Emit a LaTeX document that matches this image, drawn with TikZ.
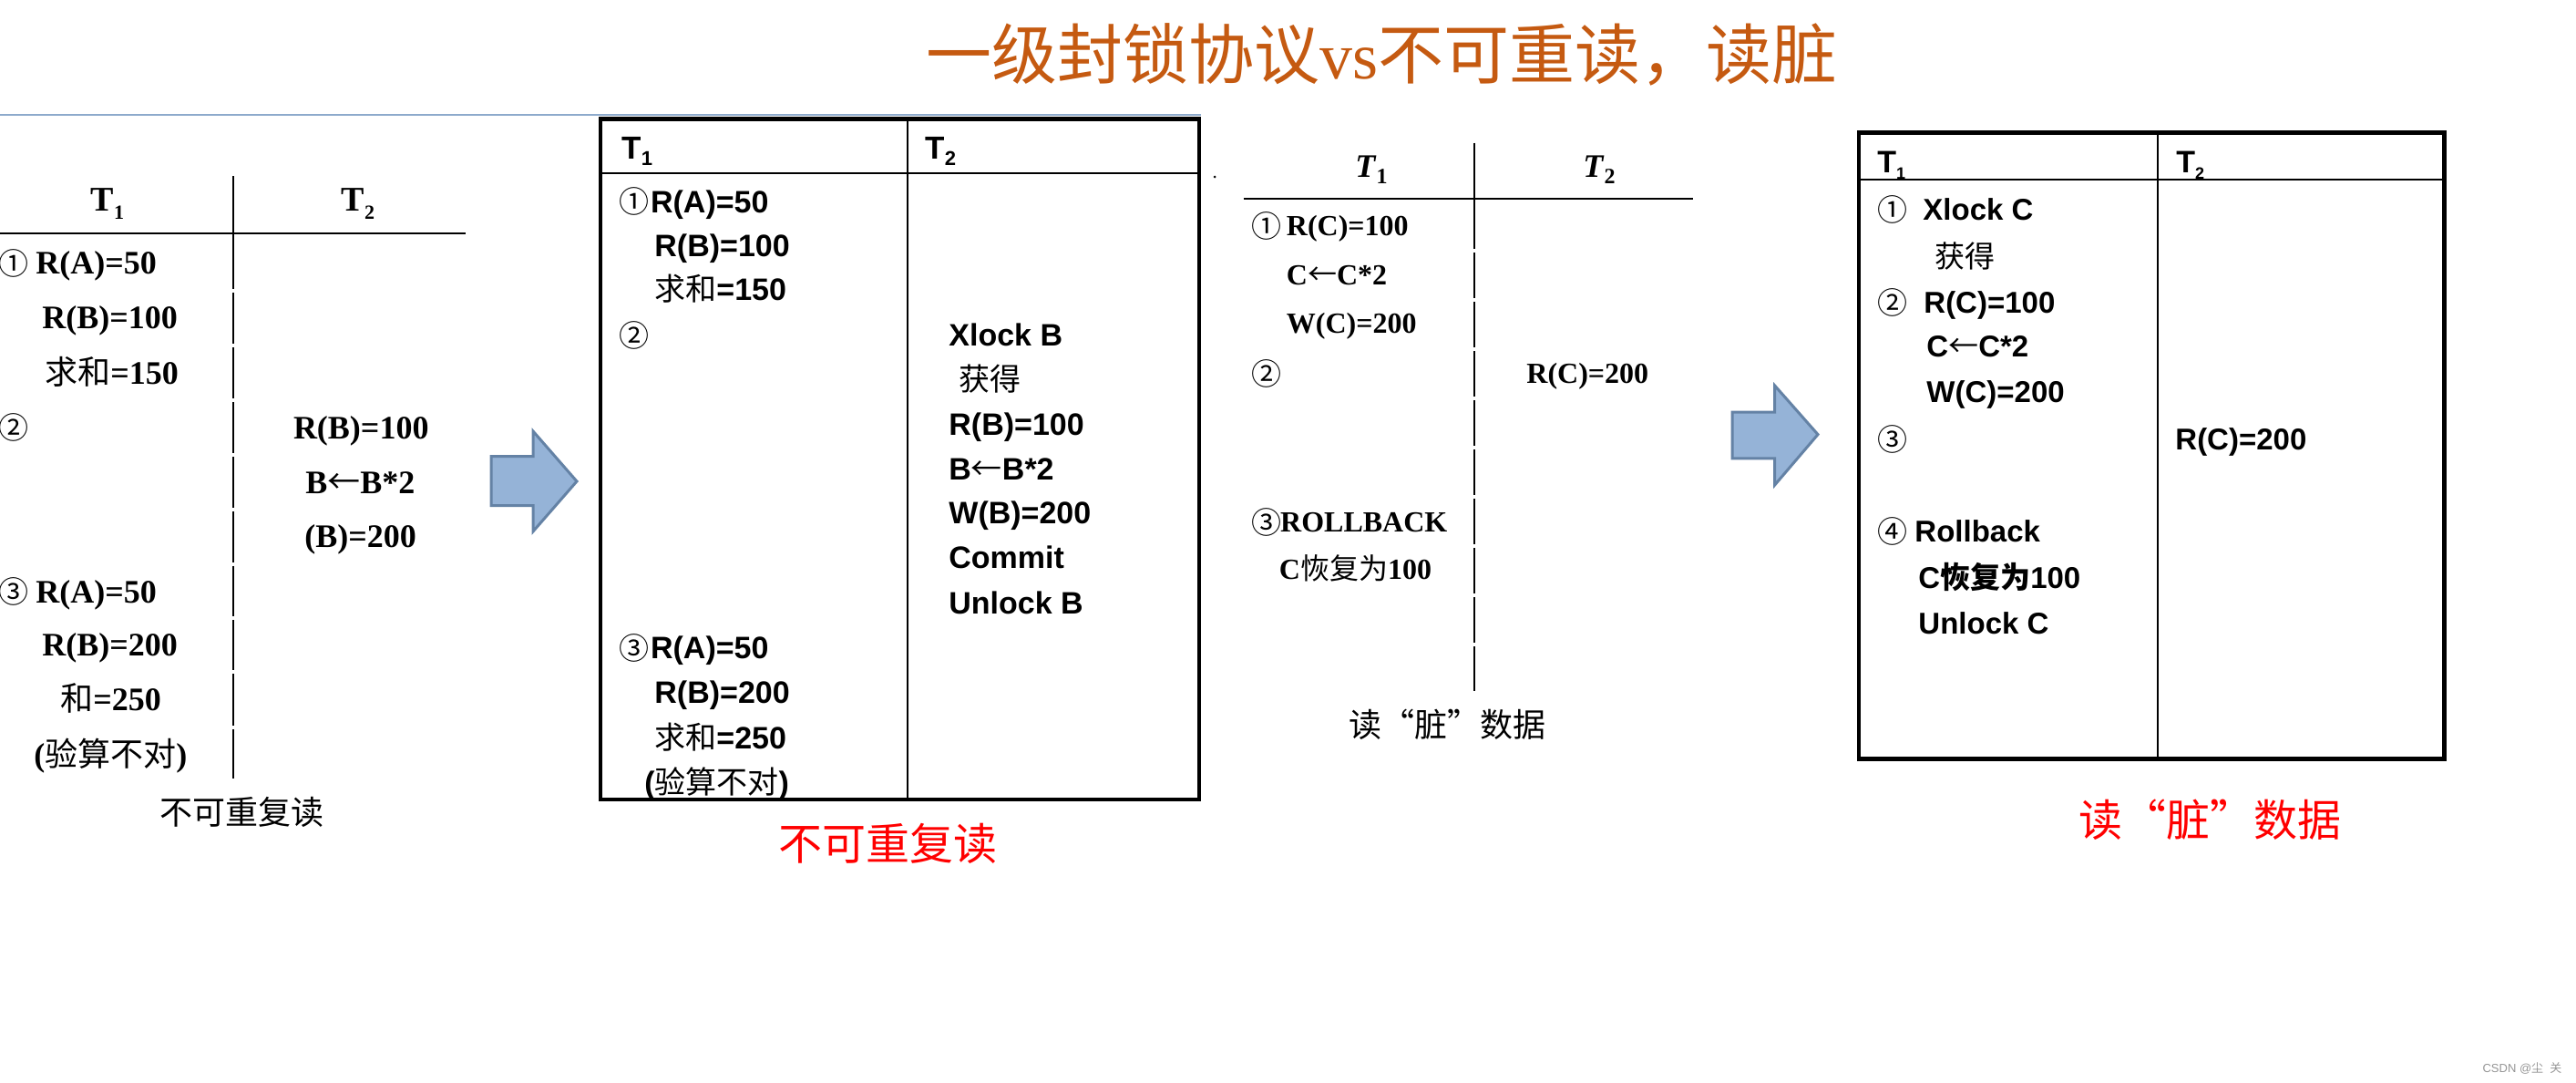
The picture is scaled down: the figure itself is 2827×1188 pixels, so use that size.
\documentclass[tikz,border=0pt]{standalone}
\usepackage{fontspec}
\setmainfont{Liberation Serif}
\newfontfamily\lsans{Liberation Sans}
\newfontfamily\cjkf{Noto Sans CJK SC}
\newcommand\cjktext[1]{{\cjkf\mdseries #1}}
\newcommand\cjkbold[1]{{\cjkf\bfseries #1}}
\newcommand\larr{{\cjkf\mdseries ←}}
\newcommand\tsub[3]{\raisebox{-#2}{\fontsize{#1}{#1}\selectfont #3}}
\definecolor{titlec}{RGB}{197,90,17}
\definecolor{arrowfill}{RGB}{149,179,215}
\definecolor{arrowdraw}{RGB}{100,130,165}
\definecolor{blueline}{RGB}{141,170,204}
\definecolor{capred}{RGB}{255,0,0}
\definecolor{wmgrey}{RGB}{150,150,150}
\begin{document}
\begin{tikzpicture}[x=0.5pt,y=-0.5pt,
  rowA/.style={anchor=base west, inner sep=0, font=\fontsize{18}{20}\selectfont\bfseries},
  rowB/.style={anchor=base west, inner sep=0, font=\lsans\fontsize{17}{20}\selectfont\bfseries},
  rowC/.style={anchor=base west, inner sep=0, font=\fontsize{16}{18}\selectfont\bfseries},
  rowD/.style={anchor=base west, inner sep=0, font=\lsans\fontsize{16.5}{18}\selectfont\bfseries},
  circ/.style={anchor=west, inner sep=0, font=\cjkf\fontsize{16.5}{17}\selectfont},
  capblack/.style={inner sep=0, font=\cjkf\fontsize{18}{18}\selectfont},
  capredst/.style={inner sep=0, text=capred, font=\cjkf\fontsize{24}{24}\selectfont},
  tline/.style={line width=1pt, black},
  boxline/.style={line width=2.25pt, black},
  gridline/.style={line width=1.2pt, black},
  blockarrow/.style={fill=arrowfill, draw=arrowdraw, line width=1.5pt, line join=miter}
]
\useasboundingbox (0,0) rectangle (2827,1188);
\fill[white] (0,0) rectangle (2827,1188);

% title
\node[inner sep=0, text=titlec, font=\cjkf\fontsize{36}{36}\selectfont] (title) at (1516,60) {一级封锁协议{\rmfamily vs}不可重读，读脏};

% blue line
\draw[blueline, line width=1.25pt] (0,126) -- (1318,126);

% ================= Table 1 =================
\draw[tline] (0,255.5) -- (511,255.5);
\foreach \a/\b in {193/316.6, 320.6/376.8, 380.8/437, 441/497, 501/556.5, 560.5/616.5, 620.5/676, 680/735, 739/795.8, 799.8/854}
  \draw[tline] (256,\a) -- (256,\b);
\node[anchor=base, inner sep=0, font=\fontsize{19}{20}\selectfont\bfseries] (ah1) at (118,231) {T\tsub{11}{4.5pt}{1}};
\node[anchor=base, inner sep=0, font=\fontsize{19}{20}\selectfont\bfseries] (ah2) at (393,231) {T\tsub{11}{4.5pt}{2}};
\node[circ] (ac1) at (-2,288.5) {①};
\node[rowA] (ar1) at (39,300.5) {R(A)=50};
\node[rowA] (ar2) at (46,360.7) {R(B)=100};
\node[rowA] (ar3) at (49,421) {\cjktext{求和}=150};
\node[circ] (ac2) at (-2,469) {②};
\node[rowA] (ar4) at (321.6,481) {R(B)=100};
\node[rowA] (ar5) at (335,541) {B\larr B*2};
\node[rowA] (ar6) at (334,600) {(B)=200};
\node[circ] (ac3) at (-2,649) {③};
\node[rowA] (ar7) at (39,661) {R(A)=50};
\node[rowA] (ar8) at (46,719) {R(B)=200};
\node[rowA] (ar9) at (66,779.5) {\cjktext{和}=250};
\node[rowA] (ar10) at (37,840) {(\cjktext{验算不对})};
\node[capblack] (acap) at (265,891) {不可重复读};

% arrow 1
\draw[blockarrow] (539,500.5) -- (585,500.5) -- (585,473) -- (633,528) -- (585,583) -- (585,554.5) -- (539,554.5) -- cycle;

% ================= Table 2 =================
\draw[gridline] (658.75,190) -- (1316,190);
\draw[gridline] (996,130.6) -- (996,877);
\draw[boxline] (658.75,130.6) rectangle (1316,877);
\node[rowB, font=\lsans\fontsize{17.5}{20}\selectfont\bfseries] (bh1) at (682,175) {T\tsub{11}{3.2pt}{1}};
\node[rowB, font=\lsans\fontsize{17.5}{20}\selectfont\bfseries] (bh2) at (1015,175) {T\tsub{11}{3.2pt}{2}};
\node[circ] (bc1) at (679,221) {①};
\node[rowB] (br1) at (713.7,233.2) {R(A)=50};
\node[rowB] (br2) at (718,281.2) {R(B)=100};
\node[rowB] (br3) at (718,329.8) {\cjktext{求和}=150};
\node[circ] (bc2) at (679,367.5) {②};
\node[rowB] (bs1) at (1041,379.7) {Xlock B};
\node[rowB] (bs2) at (1051.6,428.2) {\cjktext{获得}};
\node[rowB] (bs3) at (1041,477.2) {R(B)=100};
\node[rowB] (bs4) at (1041,526.2) {B\larr B*2};
\node[rowB] (bs5) at (1041,574.8) {W(B)=200};
\node[rowB] (bs6) at (1041,623.2) {Commit};
\node[rowB] (bs7) at (1041,673.2) {Unlock B};
\node[circ] (bc3) at (679,710.5) {③};
\node[rowB] (br4) at (713.7,722.7) {R(A)=50};
\node[rowB] (br5) at (718,771.2) {R(B)=200};
\node[rowB] (br6) at (718,821.2) {\cjktext{求和}=250};
\node[rowB] (br7) at (707,870.2) {(\cjktext{验算不对})};
\node[capredst] (bcap) at (974,925.7) {不可重复读};

% tiny mark
\fill[black] (1333,194) circle (1.5);

% ================= Table 3 =================
\draw[tline] (1364.6,218) -- (1858,218);
\foreach \a/\b in {156.6/273, 277/327, 331/381, 385/435, 439/489, 493/543, 547/597, 601/651, 655/705, 709/758}
  \draw[tline] (1618,\a) -- (1618,\b);
\node[anchor=base, inner sep=0, font=\fontsize{18}{20}\selectfont\bfseries] (ch1) at (1505,194) {\textit{T}\tsub{12}{3.5pt}{1}};
\node[anchor=base, inner sep=0, font=\fontsize{18}{20}\selectfont\bfseries] (ch2) at (1755,194) {\textit{T}\tsub{12}{3.5pt}{2}};
\node[circ] (cc1) at (1372.7,248) {①};
\node[rowC] (cr1) at (1411.5,258.6) {R(C)=100};
\node[rowC] (cr2) at (1411.5,312.6) {C\larr C*2};
\node[rowC] (cr3) at (1411.5,365.6) {W(C)=200};
\node[circ] (cc2) at (1372.7,410) {②};
\node[rowC] (cr4) at (1675,420.6) {R(C)=200};
\node[circ] (cc3) at (1372.7,572.7) {③};
\node[rowC] (cr5) at (1404.8,583.3) {ROLLBACK};
\node[rowC] (cr6) at (1403.5,635.6) {C\cjktext{恢复为}100};
\node[capblack] (ccap) at (1588.6,795) {读“脏”数据};

% arrow 2
\draw[blockarrow] (1901,452) -- (1947.7,452) -- (1947.7,423) -- (1995,476.6) -- (1947.7,532) -- (1947.7,502.8) -- (1901,502.8) -- cycle;

% ================= Table 4 =================
\draw[gridline] (2040,197) -- (2682.6,197);
\draw[gridline] (2367.8,145.7) -- (2367.8,832.6);
\draw[boxline] (2040,145.7) rectangle (2682.6,832.6);
\node[rowD, font=\lsans\fontsize{17}{20}\selectfont\bfseries] (dh1) at (2060,190) {T\tsub{9}{3.5pt}{1}};
\node[rowD, font=\lsans\fontsize{17}{20}\selectfont\bfseries] (dh2) at (2388,190) {T\tsub{9}{3.5pt}{2}};
\node[circ] (dc1) at (2060,229.5) {①};
\node[rowD] (dr1) at (2110,241.3) {Xlock C};
\node[rowD] (dr2) at (2123,293.8) {\cjktext{获得}};
\node[circ] (dc2) at (2060,331.6) {②};
\node[rowD] (dr3) at (2111,343.4) {R(C)=100};
\node[rowD] (dr4) at (2114,391.8) {C\larr C*2};
\node[rowD] (dr5) at (2114,441.8) {W(C)=200};
\node[circ] (dc3) at (2060,482) {③};
\node[rowD] (ds1) at (2387,493.8) {R(C)=200};
\node[circ] (dc4) at (2060,583) {④};
\node[rowD] (dr6) at (2101,594.8) {Rollback};
\node[rowD] (dr7) at (2105,645.4) {C\cjkbold{恢复为}100};
\node[rowD] (dr8) at (2105,695.8) {Unlock C};
\node[capredst] (dcap) at (2425,899.6) {读“脏”数据};

% watermark
\node[inner sep=0, text=wmgrey, font=\lsans\fontsize{6.5}{7}\selectfont] (wm) at (2768,1172) {CSDN @\cjktext{尘}\ \ \cjktext{关}};
\end{tikzpicture}
\end{document}
